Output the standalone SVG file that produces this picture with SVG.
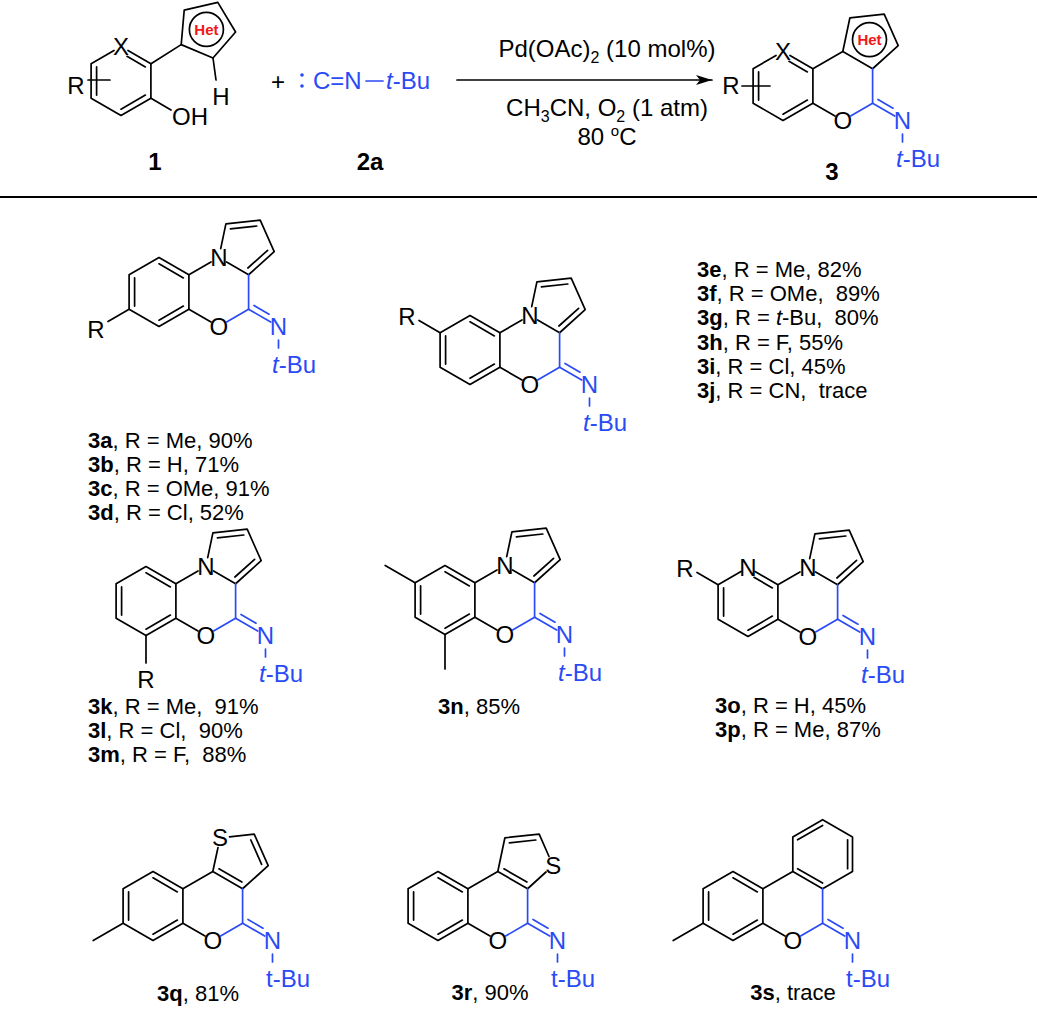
<svg xmlns="http://www.w3.org/2000/svg" xmlns:xlink="http://www.w3.org/1999/xlink" width="1037" height="1013" viewBox="0 0 1037 1013">
<style>
text{font-family:"Liberation Sans",Arial,sans-serif;font-size:24px;fill:#000}
.lab{font-size:22px;white-space:pre}
.b{font-weight:bold}
.bl{fill:#2a4af5}
.c{text-anchor:middle}
.het{font-size:15px;font-weight:bold;fill:#f01818;text-anchor:middle}
line,polyline,polygon,path,circle{stroke:#000;stroke-width:1.7;fill:none;stroke-linecap:round;stroke-linejoin:round}
.bs{stroke:#2a4af5}
</style>
<defs>
<marker id="ah" markerWidth="18" markerHeight="10" refX="16" refY="5" orient="auto" markerUnits="userSpaceOnUse"><path d="M0,0 L16,5 L0,10 L4,5 Z" style="fill:#000;stroke:none"/></marker>
<g id="benzI">
<line x1="-24.4" y1="14.1" x2="-24.4" y2="-14.1"/>
<line x1="0" y1="-28.2" x2="24.4" y2="-14.1"/>
<line x1="24.4" y1="14.1" x2="0" y2="28.2"/>
</g>
<g id="benz">
<polygon points="0,-34.5 29.9,-17.25 29.9,17.25 0,34.5 -29.9,17.25 -29.9,-17.25"/>
<use xlink:href="#benzI"/>
</g>
<g id="benzX">
<polyline points="7,-30.5 29.9,-17.25 29.9,17.25 0,34.5 -29.9,17.25 -29.9,-17.25 -7,-30.5"/>
<line x1="-24.4" y1="14.1" x2="-24.4" y2="-14.1"/>
<line x1="6" y1="-24.7" x2="24.4" y2="-14.1"/>
<line x1="24.4" y1="14.1" x2="0" y2="28.2"/>
</g>
<g id="oxO">
<line x1="29.9" y1="17.25" x2="52" y2="30"/>
<text x="59.8" y="43" class="c">O</text>
</g>
<g id="imineCore">
<line class="bs" x1="89.6" y1="-17.25" x2="89.6" y2="17.25"/>
<line class="bs" x1="89.6" y1="17.25" x2="67.6" y2="30"/>
<line class="bs" x1="89.6" y1="17.25" x2="111.7" y2="30"/>
<line class="bs" x1="95" y1="13.5" x2="110" y2="22.2"/>
<text x="119.5" y="43" class="c bl">N</text>
<line class="bs" x1="119.5" y1="48" x2="119.5" y2="56"/>
</g>
<g id="imine"><use xlink:href="#imineCore"/><text x="113" y="81" class="bl"><tspan font-style="italic">t</tspan>-Bu</text></g>
<g id="imineU"><use xlink:href="#imineCore"/><text x="113" y="81" class="bl">t-Bu</text></g>
<g id="pyr">
<line x1="29.9" y1="-17.25" x2="52" y2="-30"/>
<text x="59.8" y="-26" class="c">N</text>
<polyline points="67.6,-30 89.6,-17.25 115.2,-40.3 101.2,-71.8 66.9,-68.2 61.7,-43.3"/>
<line x1="97.8" y1="-66" x2="71.4" y2="-63.2"/>
<line x1="88.9" y1="-24" x2="108.6" y2="-41.7"/>
</g>
<g id="pyrBenz"><use xlink:href="#benz"/><use xlink:href="#pyr"/><use xlink:href="#oxO"/><use xlink:href="#imine"/></g>
</defs>

<g id="compound-1">
<use xlink:href="#benzX" transform="translate(121,81)"/>
<text x="121" y="55" class="c">X</text>
<line x1="88" y1="80" x2="110" y2="80"/>
<text x="76" y="94" class="c">R</text>
<line x1="151" y1="63.75" x2="181.2" y2="44.6"/>
<polygon points="181.2,44.6 213,58 235.6,32 217.8,2.4 184.2,10.2"/>
<circle cx="206.4" cy="29.4" r="17"/>
<text x="206.4" y="35" class="het">Het</text>
<line x1="213" y1="58" x2="216" y2="80"/>
<text x="221" y="105" class="c">H</text>
<line x1="151" y1="98.25" x2="171" y2="110"/>
<text x="172" y="125">OH</text>
<text x="155" y="170" class="c b">1</text>
</g>

<g id="plus"><text x="278" y="90" class="c">+</text></g>

<g id="compound-2a">
<circle cx="302" cy="75" r="1.8" style="fill:#2a4af5;stroke:none"/>
<circle cx="302" cy="86" r="1.8" style="fill:#2a4af5;stroke:none"/>
<text x="313" y="89" class="bl">C=N</text>
<line class="bs" x1="366" y1="81" x2="383" y2="81"/>
<text x="386" y="89" class="bl"><tspan font-style="italic">t</tspan>-Bu</text>
<text x="370" y="170" class="c b">2a</text>
</g>

<g id="connectors">
<line x1="457" y1="80" x2="712" y2="80" marker-end="url(#ah)"/>
<line x1="0" y1="197" x2="1037" y2="197" style="stroke-width:1.8"/>
</g>

<g id="conditions">
<text x="607" y="57" class="c">Pd(OAc)<tspan font-size="16" dy="6">2</tspan><tspan dy="-6"> (10 mol%)</tspan></text>
<text x="607" y="116" class="c">CH<tspan font-size="16" dy="6">3</tspan><tspan dy="-6">CN, O</tspan><tspan font-size="16" dy="6">2</tspan><tspan dy="-6"> (1 atm)</tspan></text>
<text x="607" y="145" class="c">80 <tspan font-size="15" dy="-9">o</tspan><tspan dy="9">C</tspan></text>
</g>

<g id="compound-3" transform="translate(783,86)">
<use xlink:href="#benzX"/>
<text x="0" y="-26" class="c">X</text>
<line x1="-41" y1="0" x2="-13" y2="0"/>
<text x="-52" y="8" class="c">R</text>
<line x1="29.9" y1="-17.25" x2="59.8" y2="-34.5"/>
<polygon points="59.8,-34.5 89.6,-17.25 115.2,-40.3 101.2,-71.8 66.9,-68.2"/>
<circle cx="86.5" cy="-46.4" r="17"/>
<text x="86.5" y="-40.8" class="het">Het</text>
<use xlink:href="#oxO"/>
<use xlink:href="#imine"/>
<text x="49" y="94" class="c b">3</text>
</g>

<g id="compound-3a" transform="translate(159,292)">
<use xlink:href="#pyrBenz"/>
<line x1="-29.9" y1="17.25" x2="-51" y2="29.5"/>
<text x="-63" y="46" class="c">R</text>
</g>
<text x="88" y="448" class="lab"><tspan class="b">3a</tspan>, R = Me, 90%</text>
<text x="88" y="472" class="lab"><tspan class="b">3b</tspan>, R = H, 71%</text>
<text x="88" y="496" class="lab"><tspan class="b">3c</tspan>, R = OMe, 91%</text>
<text x="88" y="520" class="lab"><tspan class="b">3d</tspan>, R = Cl, 52%</text>

<g id="compound-3e" transform="translate(470,350)">
<use xlink:href="#pyrBenz"/>
<line x1="-29.9" y1="-17.25" x2="-51" y2="-29.5"/>
<text x="-63" y="-25" class="c">R</text>
</g>
<text x="697" y="277" class="lab"><tspan class="b">3e</tspan>, R = Me, 82%</text>
<text x="697" y="301" class="lab"><tspan class="b">3f</tspan>, R = OMe,  89%</text>
<text x="697" y="325" class="lab"><tspan class="b">3g</tspan>, R = <tspan font-style="italic">t</tspan>-Bu,  80%</text>
<text x="697" y="350" class="lab"><tspan class="b">3h</tspan>, R = F, 55%</text>
<text x="697" y="374" class="lab"><tspan class="b">3i</tspan>, R = Cl, 45%</text>
<text x="697" y="398" class="lab"><tspan class="b">3j</tspan>, R = CN,  trace</text>

<g id="compound-3k" transform="translate(146,601)">
<use xlink:href="#pyrBenz"/>
<line x1="0" y1="34.5" x2="0" y2="62"/>
<text x="0" y="87" class="c">R</text>
</g>
<text x="88" y="714" class="lab"><tspan class="b">3k</tspan>, R = Me,  91%</text>
<text x="88" y="738" class="lab"><tspan class="b">3l</tspan>, R = Cl,  90%</text>
<text x="88" y="762" class="lab"><tspan class="b">3m</tspan>, R = F,  88%</text>

<g id="compound-3n" transform="translate(445,600)">
<use xlink:href="#pyrBenz"/>
<line x1="-29.9" y1="-17.25" x2="-59.8" y2="-34.5"/>
<line x1="0" y1="34.5" x2="0" y2="69"/>
</g>
<text x="479" y="714" class="lab c"><tspan class="b">3n</tspan>, 85%</text>

<g id="compound-3o" transform="translate(748,602)">
<use xlink:href="#benzX"/>
<text x="0" y="-26" class="c">N</text>
<use xlink:href="#pyr"/><use xlink:href="#oxO"/><use xlink:href="#imine"/>
<line x1="-29.9" y1="-17.25" x2="-51" y2="-29.5"/>
<text x="-63" y="-25" class="c">R</text>
</g>
<text x="715" y="713" class="lab"><tspan class="b">3o</tspan>, R = H, 45%</text>
<text x="715" y="737" class="lab"><tspan class="b">3p</tspan>, R = Me, 87%</text>

<g id="compound-3q" transform="translate(153,906)">
<use xlink:href="#benz"/>
<line x1="-29.9" y1="17.25" x2="-59.8" y2="34.5"/>
<line x1="29.9" y1="-17.25" x2="59.8" y2="-34.5"/>
<polyline points="65,-58.5 59.8,-34.5 89.6,-17.25 115.2,-40.3 101.2,-71.8 76.5,-69.2"/>
<text x="66.9" y="-60" class="c">S</text>
<line x1="65.9" y1="-37.2" x2="88.9" y2="-24"/>
<line x1="108.6" y1="-41.7" x2="97.8" y2="-66"/>
<use xlink:href="#oxO"/><use xlink:href="#imineU"/>
</g>
<text x="198" y="1001" class="lab c"><tspan class="b">3q</tspan>, 81%</text>

<g id="compound-3r" transform="translate(438,906)">
<use xlink:href="#benz"/>
<line x1="29.9" y1="-17.25" x2="59.8" y2="-34.5"/>
<polyline points="108,-34 89.6,-17.25 59.8,-34.5 66.9,-68.2 101.2,-71.8 111,-49.5"/>
<text x="115.2" y="-32" class="c">S</text>
<line x1="65.9" y1="-37.2" x2="88.9" y2="-24"/>
<line x1="97.8" y1="-66" x2="71.4" y2="-63.2"/>
<use xlink:href="#oxO"/><use xlink:href="#imineU"/>
</g>
<text x="490" y="1000" class="lab c"><tspan class="b">3r</tspan>, 90%</text>

<g id="compound-3s" transform="translate(733,906)">
<use xlink:href="#benz"/>
<line x1="-29.9" y1="17.25" x2="-59.8" y2="34.5"/>
<line x1="29.9" y1="-17.25" x2="59.8" y2="-34.5"/>
<polygon points="59.8,-34.5 59.8,-69 89.6,-86.3 119.5,-69 119.5,-34.5 89.6,-17.25"/>
<line x1="64.6" y1="-66.2" x2="89.6" y2="-80.6"/>
<line x1="114.6" y1="-66.2" x2="114.6" y2="-37.3"/>
<line x1="64.6" y1="-37.3" x2="89.6" y2="-23"/>
<use xlink:href="#oxO"/><use xlink:href="#imineU"/>
</g>
<text x="793" y="1000" class="lab c"><tspan class="b">3s</tspan>, trace</text>
</svg>
